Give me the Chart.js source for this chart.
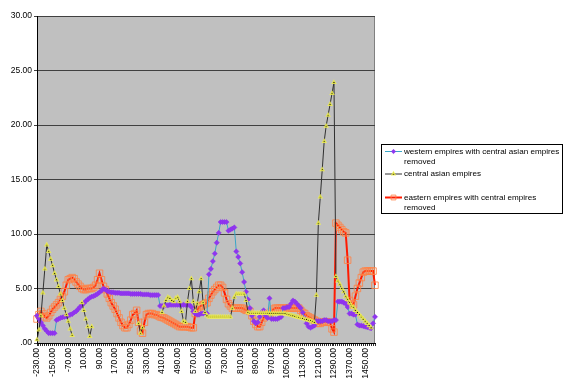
<!DOCTYPE html>
<html>
<head>
<meta charset="utf-8">
<script src="https://cdn.jsdelivr.net/npm/chart.js@4.4.0/dist/chart.umd.min.js"></script>
<style>
  body { margin: 0; background: #fff; }
  #wrap { width: 575px; height: 391px; }
</style>
</head>
<body>
<div id="wrap"><canvas id="chart" width="575" height="391"></canvas></div>
<script>
// Years (categories), every 10 years
const years = [
  -230, -220, -210, -200, -190, -180, -170, -160, -150, -140, -130, -120, -110, -100, -90, -80,
  -70, -60, -50, -40, -30, -20, -10, 0, 10, 20, 30, 40, 50, 60, 70, 80,
  90, 100, 110, 120, 130, 140, 150, 160, 170, 180, 190, 200, 210, 220, 230, 240,
  250, 260, 270, 280, 290, 300, 310, 320, 330, 340, 350, 360, 370, 380, 390, 400,
  410, 420, 430, 440, 450, 460, 470, 480, 490, 500, 510, 520, 530, 540, 550, 560,
  570, 580, 590, 600, 610, 620, 630, 640, 650, 660, 670, 680, 690, 700, 710, 720,
  730, 740, 750, 760, 770, 780, 790, 800, 810, 820, 830, 840, 850, 860, 870, 880,
  890, 900, 910, 920, 930, 940, 950, 960, 970, 980, 990, 1000, 1010, 1020, 1030, 1040,
  1050, 1060, 1070, 1080, 1090, 1100, 1110, 1120, 1130, 1140, 1150, 1160, 1170, 1180, 1190, 1200,
  1210, 1220, 1230, 1240, 1250, 1260, 1270, 1280, 1290, 1300, 1310, 1320, 1330, 1340, 1350, 1360,
  1370, 1380, 1390, 1400, 1410, 1420, 1430, 1440, 1450, 1460, 1470, 1480, 1490, 1500
];

const western = [
  2.5, 2.2, 1.9, 1.6, 1.3, 1.1, 0.9, 0.9, 0.9, 0.9,
  2.1, 2.2, 2.3, 2.35, 2.4, 2.45, 2.5, 2.6, 2.65, 2.8,
  2.9, 3.1, 3.3, 3.5, 3.65, 3.85, 4.0, 4.15, 4.25, 4.3,
  4.4, 4.5, 4.65, 4.8, 5.0, 4.9, 4.75, 4.7, 4.65, 4.65,
  4.6, 4.6, 4.6, 4.55, 4.55, 4.55, 4.55, 4.55, 4.5, 4.5,
  4.5, 4.5, 4.5, 4.5, 4.45, 4.45, 4.45, 4.45, 4.4, 4.4,
  4.4, 4.4, 4.4, 3.4, 3.4, 3.4, 3.45, 3.45, 3.5, 3.5,
  3.5, 3.5, 3.5, 3.5, 3.5, 3.5, 3.5, 3.5, 3.5, 3.3,
  2.9, 2.7, 2.6, 2.6, 2.7, 2.7, 2.8, 2.7, 6.3, 6.8,
  7.5, 8.2, 9.2, 10.1, 11.1, 11.1, 11.1, 11.1, 10.3, 10.4,
  10.5, 10.6, 8.4, 7.9, 7.3, 6.5, 5.6, 4.7, 4.0, 3.2,
  2.5, 2.0, 1.8, 1.9, 2.4, 2.8, 3.0, 2.5, 2.3, 4.1,
  2.2, 2.2, 2.2, 2.2, 2.3, 2.4, 3.2, 3.2, 3.3, 3.3,
  3.6, 3.9, 3.8, 3.6, 3.4, 3.2, 2.8, 2.3, 1.8, 1.5,
  1.4, 1.5, 1.6, 2.0, 2.0, 2.0, 2.0, 2.1, 2.1, 2.0,
  2.0, 2.0, 2.1, 2.1, 3.8, 3.8, 3.8, 3.7, 3.6, 3.3,
  2.7, 2.7, 2.6, 2.6, 1.7, 1.6, 1.6, 1.55, 1.5, 1.45,
  1.4, 1.35, 1.8, 2.4
];

const centralAsian = [
  0.3, 1.2, 2.5, 4.6, 6.8, 9.0, 8.4, 7.7, 7.1, 6.4,
  5.8, 5.2, 4.5, 3.9, 3.2, 2.6, 2.0, 1.3, 0.7, null,
  null, null, null, 3.7, 3.0, 2.2, 1.5, 0.6, 1.5, null,
  null, null, null, null, null, null, null, null, null, null,
  null, null, null, null, null, null, null, null, null, null,
  null, null, 1.8, 0.9, 1.4, null, null, null, null, null,
  null, null, null, null, 2.8, 3.4, 3.9, 4.2, 4.1, 3.9,
  3.8, 4.1, 4.2, 3.8, 2.9, 2.0, 1.9, 3.8, 5.0, 5.9,
  3.8, 2.9, 3.6, 4.7, 5.9, 3.7, 2.8, 2.5, 2.4, 2.4,
  2.4, 2.4, 2.4, 2.4, 2.4, 2.4, 2.4, 2.4, 2.4, 2.4,
  3.2, 4.2, 4.5, 4.5, 4.5, 4.5, 4.5, 3.9, 2.8, 2.75,
  2.75, 2.75, 2.75, 2.75, 2.75, 2.75, 2.75, 2.75, 2.75, 2.7,
  2.7, 2.7, 2.7, 2.7, 2.7, 2.7, 2.7, 2.7, 2.65, 2.6,
  2.55, 2.5, 2.45, 2.4, 2.35, 2.3, 2.25, 2.2, 2.15, 2.1,
  2.05, 2.0, 1.9, 4.4, 11.0, 13.4, 15.9, 18.5, 19.9, 20.9,
  21.9, 22.9, 23.9, 6.1, 5.7, 5.4, 5.0, 4.7, 4.3, 4.0,
  3.7, 3.4, 3.3, 3.0, 2.8, 2.6, 2.4, 2.2, 2.0, 1.8,
  1.6, 1.4, null, null
];

const eastern = [
  2.2, 2.6, 2.9, 2.7, 2.4, 2.3, 2.5, 2.8, 3.1, 3.3,
  3.5, 3.7, 4.0, 4.3, 4.7, 5.3, 5.8, 5.9, 6.0, 5.9,
  5.6, 5.4, 5.2, 5.0, 4.9, 4.9, 5.0, 5.0, 5.0, 5.1,
  5.3, 5.8, 6.4, 5.8, 5.2, 4.9, 4.5, 4.1, 3.7, 3.4,
  3.1, 2.7, 2.3, 1.9, 1.6, 1.4, 1.4, 1.7, 2.1, 2.6,
  2.7, 3.0, 1.9, 1.1, 0.9, 1.9, 2.6, 2.7, 2.7, 2.7,
  2.6, 2.6, 2.5, 2.4, 2.35, 2.3, 2.2, 2.1, 2.0, 1.9,
  1.8, 1.7, 1.6, 1.5, 1.5, 1.5, 1.5, 1.5, 1.45, 1.4,
  1.4, 2.7, 3.0, 3.3, 3.4, 3.5, 3.6, 3.7, 4.1, 4.4,
  4.7, 4.9, 5.1, 5.3, 5.3, 5.1, 4.6, 4.0, 3.6, 3.4,
  3.2, 3.2, 3.2, 3.2, 3.2, 3.2, 3.1, 3.0, 3.0, 2.9,
  2.5, 2.0, 1.7, 1.5, 1.5, 1.9, 2.3, 2.5, 2.6, 2.7,
  2.9, 3.1, 3.2, 3.2, 3.2, 3.2, 3.2, 3.2, 3.2, 3.2,
  3.2, 3.2, 3.2, 3.2, 3.2, 3.0, 2.8, 2.7, 2.5, 2.4,
  2.3, 2.2, 2.1, 2.0, 1.8, 1.8, 1.9, 1.95, 1.95, 1.9,
  1.9, 1.3, 1.0, 11.0, 10.8, 10.6, 10.4, 10.2, 10.1, 7.6,
  3.9, 3.6, 3.5, 4.3, 5.0, 5.5, 6.0, 6.5, 6.6, 6.6,
  6.6, 6.6, 6.6, 5.3
];

const yTicks = [0, 5, 10, 15, 20, 25, 30];

Chart.defaults.font.family = '"Liberation Sans", Arial, sans-serif';
Chart.defaults.color = '#000';

// Gray plot area like Excel
const plotBackground = {
  id: 'plotBackground',
  beforeDraw(chart) {
    const { ctx, chartArea: a } = chart;
    ctx.save();
    ctx.fillStyle = '#c0c0c0';
    ctx.fillRect(a.left, a.top, a.right - a.left, a.bottom - a.top);
    ctx.strokeStyle = '#808080';
    ctx.lineWidth = 1;
    ctx.strokeRect(a.left + 0.5, a.top + 0.5, a.right - a.left - 1, a.bottom - a.top);
    ctx.restore();
  }
};

// Boxed legend on the right, with wrapped labels
const sideLegend = {
  id: 'sideLegend',
  afterDraw(chart) {
    const ctx = chart.ctx;
    const entries = [
      { ds: 0, lines: ['western empires with central asian empires', 'removed'], y: 151.5 },
      { ds: 1, lines: ['central asian empires'], y: 174 },
      { ds: 2, lines: ['eastern empires with central empires', 'removed'], y: 197.5 }
    ];
    ctx.save();
    ctx.fillStyle = '#fff';
    ctx.fillRect(381.5, 144.5, 181, 69);
    ctx.strokeStyle = '#000';
    ctx.lineWidth = 1;
    ctx.strokeRect(381.5, 144.5, 181, 69);
    entries.forEach(e => {
      const d = chart.data.datasets[e.ds];
      ctx.strokeStyle = d.borderColor;
      ctx.lineWidth = d.borderWidth;
      ctx.beginPath();
      ctx.moveTo(385, e.y);
      ctx.lineTo(402, e.y);
      ctx.stroke();
      ctx.fillStyle = d.pointBackgroundColor;
      ctx.strokeStyle = d.pointBorderColor;
      ctx.lineWidth = d.pointBorderWidth;
      Chart.helpers.drawPoint(ctx, {
        pointStyle: d.pointStyle,
        radius: d.legendRadius,
        borderWidth: d.pointBorderWidth
      }, 393.5, e.y);
      ctx.fillStyle = '#000';
      ctx.font = '8.1px "Liberation Sans", Arial, sans-serif';
      ctx.textBaseline = 'middle';
      e.lines.forEach((t, k) => ctx.fillText(t, 404, e.y + k * 10));
    });
    ctx.restore();
  }
};

new Chart(document.getElementById('chart'), {
  type: 'line',
  data: {
    labels: years,
    datasets: [
      {
        label: 'western empires with central asian empires removed',
        data: western,
        borderColor: '#3aa6c8',
        borderWidth: 1,
        pointStyle: 'rectRot',
        pointRadius: 2.6,
        legendRadius: 2.2,
        pointBorderWidth: 0.5,
        pointBackgroundColor: '#9035f0',
        pointBorderColor: '#8a30e8',
        order: 2
      },
      {
        label: 'central asian empires',
        data: centralAsian,
        borderColor: '#303030',
        borderWidth: 1,
        pointStyle: 'triangle',
        pointRadius: 2,
        legendRadius: 2,
        pointBorderWidth: 1.2,
        pointBackgroundColor: '#000',
        pointBorderColor: 'rgba(245,245,80,0.85)',
        spanGaps: false,
        order: 1
      },
      {
        label: 'eastern empires with central empires removed',
        data: eastern,
        borderColor: '#ff1a00',
        borderWidth: 2,
        pointStyle: 'rect',
        pointRadius: 4.6,
        legendRadius: 3.4,
        pointBorderWidth: 1,
        pointBackgroundColor: 'rgba(255,185,140,0)',
        pointBorderColor: 'rgba(255,130,70,0.85)',
        order: 3
      }
    ]
  },
  options: {
    responsive: false,
    animation: false,
    devicePixelRatio: 1,
    layout: { padding: { top: 16, right: 200, left: 0, bottom: 0 } },
    plugins: {
      legend: { display: false },
      tooltip: { enabled: false }
    },
    elements: { line: { tension: 0 } },
    scales: {
      x: {
        offset: false,
        grid: { display: true, drawOnChartArea: false, drawTicks: true, tickLength: 3, color: '#303030' },
        border: { display: true, color: '#000' },
        ticks: {
          autoSkip: false,
          minRotation: 90,
          maxRotation: 90,
          padding: 2,
          font: { size: 8.5 },
          callback: (v, i) => (i % 8 === 0 ? years[i].toFixed(2) : '')
        },
        afterFit: s => { s.height = 48; }
      },
      y: {
        min: 0,
        max: 30,
        afterBuildTicks: s => { s.ticks = yTicks.map(v => ({ value: v })); },
        grid: { color: '#404040', tickLength: 3 },
        border: { display: true, color: '#000' },
        ticks: {
          padding: 2,
          font: { size: 8.5 },
          callback: v => (v === 0 ? '.00' : v.toFixed(2))
        },
        afterFit: s => { s.width = 37; }
      }
    }
  },
  plugins: [plotBackground, sideLegend]
});
</script>
</body>
</html>
